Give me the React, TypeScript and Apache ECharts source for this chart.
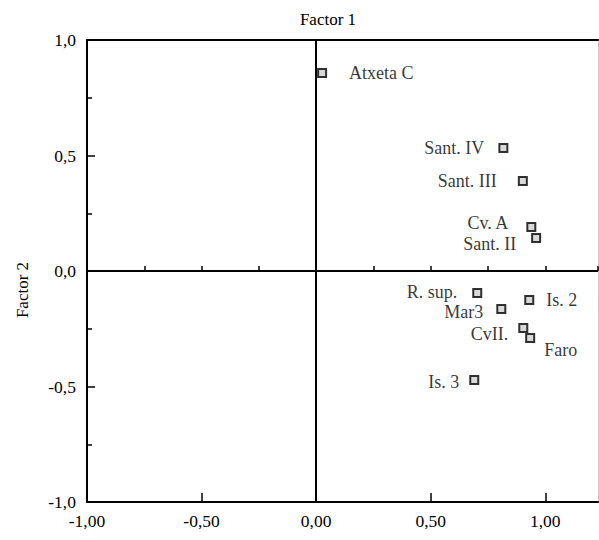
import React, { useEffect, useRef } from "react";
import * as echarts from "echarts";

const sites = ["Atxeta C", "Sant. IV", "Sant. III", "Cv. A", "Sant. II", "R. sup.", "Is. 2", "Mar3", "CvII.", "Faro", "Is. 3"];
const factor1 = [0.026, 0.817, 0.902, 0.939, 0.960, 0.703, 0.930, 0.808, 0.904, 0.934, 0.690];
const factor2 = [0.857, 0.532, 0.390, 0.190, 0.143, -0.095, -0.126, -0.165, -0.247, -0.290, -0.472];
const xTickValues = [-1, -0.5, 0, 0.5, 1];
const yTickValues = [-1, -0.5, 0, 0.5, 1];
const titleText = "Factor 1";
const yTitleText = "Factor 2";

const FONT = "'Liberation Serif', 'DejaVu Serif', serif";
const INK = "#000";

// label layout per site: [position, distance, dx, dy]
const labelLayout: Record<string, [string, number, number, number]> = {
  "Atxeta C": ["right", 22, 0, 0],
  "Sant. IV": ["left", 14, 0, 0],
  "Sant. III": ["left", 21, 0, 0],
  "Cv. A": ["left", 18, 0, -4],
  "Sant. II": ["left", 15, 0, 6],
  "R. sup.": ["left", 15, 0, -1],
  "Is. 2": ["right", 12, 0, 0],
  "Mar3": ["left", 13, 0, 3],
  "CvII.": ["left", 10, 0, 6],
  "Faro": ["right", 9, 0, 12],
  "Is. 3": ["left", 10, 0, 2],
};

export default function App() {
  const ref = useRef<HTMLDivElement>(null);
  useEffect(() => {
    if (!ref.current) return;
    const chart = echarts.init(ref.current, undefined, { renderer: "svg" });
    const xMin = -1;
    const xMax = 1.23;
    const fmtX = (v: number) => (xTickValues.some((t) => Math.abs(t - v) < 1e-6) ? v.toFixed(2).replace(".", ",") : "");
    const fmtY = (v: number) => (yTickValues.some((t) => Math.abs(t - v) < 1e-6) ? v.toFixed(1).replace(".", ",") : "");
    const data = sites.map((name, i) => {
      const [pos, dist, dx, dy] = labelLayout[name];
      return {
        name,
        value: [factor1[i], factor2[i]],
        label: { position: pos, distance: dist, offset: [dx, dy] },
      };
    });
    chart.setOption({
      animation: false,
      backgroundColor: "#fff",
      grid: { left: 87, right: 1, top: 40, bottom: 38, containLabel: false },
      xAxis: [
        {
          type: "value",
          min: xMin,
          max: xMax,
          interval: 0.5,
          position: "bottom",
          axisLine: { show: true, onZero: false, lineStyle: { color: INK, width: 2 } },
          axisTick: { show: true, inside: true, length: 9, lineStyle: { color: INK, width: 1.5 } },
          splitLine: { show: false },
          axisLabel: {
            formatter: fmtX,
            showMaxLabel: false,
            margin: 10,
            fontFamily: FONT,
            fontSize: 17.5,
            color: INK,
          },
        },
        {
          type: "value",
          min: xMin,
          max: xMax,
          interval: 0.25,
          position: "bottom",
          axisLine: { show: false },
          axisTick: { show: true, inside: true, length: 5, lineStyle: { color: INK, width: 1.5 } },
          splitLine: { show: false },
          axisLabel: { show: false },
        },
        {
          type: "value",
          min: xMin,
          max: xMax,
          position: "top",
          axisLine: { show: true, onZero: false, lineStyle: { color: INK, width: 2 } },
          axisTick: { show: false },
          splitLine: { show: false },
          axisLabel: { show: false },
        },
      ],
      yAxis: [
        {
          type: "value",
          min: -1,
          max: 1,
          interval: 0.5,
          position: "left",
          axisLine: { show: true, onZero: false, lineStyle: { color: INK, width: 2 } },
          axisTick: { show: true, inside: true, length: 8, lineStyle: { color: INK, width: 1.5 } },
          minorTick: { show: true, splitNumber: 2, length: 5, lineStyle: { color: INK, width: 1.5 } },
          splitLine: { show: false },
          axisLabel: { formatter: fmtY, margin: 11, fontFamily: FONT, fontSize: 17.5, color: INK },
        },
        {
          type: "value",
          min: -1,
          max: 1,
          position: "right",
          axisLine: { show: true, onZero: false, lineStyle: { color: "#c8c8c8", width: 1 } },
          axisTick: { show: false },
          splitLine: { show: false },
          axisLabel: { show: false },
        },
      ],
      series: [
        {
          type: "scatter",
          xAxisIndex: 0,
          yAxisIndex: 0,
          symbol: "rect",
          symbolSize: 8,
          itemStyle: { color: "#d0d0d0", borderColor: INK, borderWidth: 2 },
          label: {
            show: true,
            formatter: (p: any) => p.name,
            fontFamily: FONT,
            fontSize: 18,
            color: INK,
          },
          data,
          markLine: {
            silent: true,
            symbol: ["none", "none"],
            label: { show: false },
            lineStyle: { color: INK, width: 2, type: "solid" },
            data: [{ xAxis: 0 }, { yAxis: 0 }],
          },
        },
      ],
      graphic: [
        {
          type: "text",
          x: 328,
          y: 19,
          style: {
            text: titleText,
            fontFamily: FONT,
            fontSize: 17,
            fill: INK,
            textAlign: "center",
            textVerticalAlign: "middle",
          },
        },
        {
          type: "text",
          x: 22,
          y: 290,
          rotation: Math.PI / 2,
          style: {
            text: yTitleText,
            fontFamily: FONT,
            fontSize: 17,
            fill: INK,
            textAlign: "center",
            textVerticalAlign: "middle",
          },
        },
      ],
    });
    return () => chart.dispose();
  }, []);
  return (
    <div
      ref={ref}
      style={{ position: "fixed", left: 0, top: 0, width: 599, height: 540, background: "#fff" }}
    />
  );
}
